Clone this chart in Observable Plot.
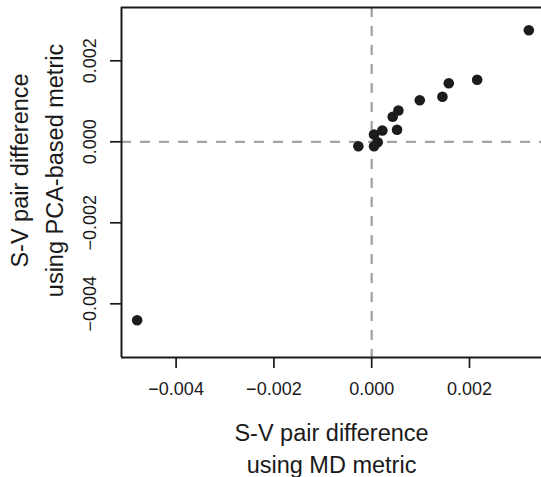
<!DOCTYPE html>
<html>
<head>
<meta charset="utf-8">
<script src="https://cdn.jsdelivr.net/npm/d3@7"></script>
<script src="https://cdn.jsdelivr.net/npm/@observablehq/plot@0.6"></script>
<style>
  html, body { margin: 0; padding: 0; background: #fff; overflow: hidden; }
</style>
</head>
<body>
<div id="chart"></div>
<script>
// S-V pair differences: MD metric (x) vs PCA-based metric (y)
const mdDiff  = [0.003214, -0.004797, 0.002157, 0.001576, 0.001447, 0.000983, 0.000546, 0.000430, 0.000519, 0.000218, 0.000048, 0.000123, 0.000048, -0.000273];
const pcaDiff = [0.002756, -0.004405, 0.001531, 0.001447, 0.001111, 0.001027, 0.000773, 0.000617, 0.000296, 0.000279, 0.000180, -0.000010, -0.000109, -0.000109];
const xTicks = [-0.004, -0.002, 0.000, 0.002];
const yTicks = [-0.004, -0.002, 0.000, 0.002];
const xDomain = [-0.005117, 0.003473];
const yDomain = [-0.005326, 0.003316];
const xTitle = ["S-V pair difference", "using MD metric"];
const yTitle = ["S-V pair difference", "using PCA-based metric"];

const points = mdDiff.map((x, i) => ({x, y: pcaDiff[i]}));
const fmt = d3.format(".3f");
const font = "'Liberation Sans', Arial, Helvetica, sans-serif";
const tickFont = 18;
const titleFont = 23.5;

const chart = Plot.plot({
  width: 541,
  height: 477,
  marginLeft: 121,
  marginRight: 0,
  marginTop: 7,
  marginBottom: 120,
  style: {fontFamily: font, fontSize: tickFont + "px", color: "#1a1a1a", background: "#fff", overflow: "hidden"},
  x: {domain: xDomain, axis: null},
  y: {domain: yDomain, axis: null},
  marks: [
    // reference lines
    Plot.ruleX([0], {stroke: "#a3a3a3", strokeWidth: 2.3, strokeDasharray: "10,9"}),
    Plot.ruleY([0], {stroke: "#a3a3a3", strokeWidth: 2.3, strokeDasharray: "10,9"}),
    // frame (right edge lies outside the visible area)
    Plot.ruleX([xDomain[0]], {stroke: "#1a1a1a", strokeWidth: 2}),
    Plot.ruleY([yDomain[0], yDomain[1]], {stroke: "#1a1a1a", strokeWidth: 2}),
    // axes
    Plot.axisX({ticks: xTicks, tickSize: 11, tickPadding: 14, tickFormat: fmt, fontSize: tickFont, strokeWidth: 1.7, label: null}),
    Plot.axisY({ticks: yTicks, tickSize: 11, tickPadding: 15, tickRotate: -90, tickFormat: fmt, fontSize: tickFont, strokeWidth: 1.7, label: null}),
    // points
    Plot.dot(points, {x: "x", y: "y", r: 5.3, fill: "#1c1c1c", stroke: null}),
    // axis titles
    Plot.text([xTitle[0]], {frameAnchor: "bottom", dy: 83, lineAnchor: "bottom", textAnchor: "middle", fontSize: titleFont, fill: "#1a1a1a"}),
    Plot.text([xTitle[1]], {frameAnchor: "bottom", dy: 115, lineAnchor: "bottom", textAnchor: "middle", fontSize: titleFont, fill: "#1a1a1a"}),
    Plot.text([yTitle[0]], {frameAnchor: "left", dx: -94, dy: -12, rotate: -90, lineAnchor: "bottom", textAnchor: "middle", fontSize: titleFont, fill: "#1a1a1a"}),
    Plot.text([yTitle[1]], {frameAnchor: "left", dx: -59, dy: -12, rotate: -90, lineAnchor: "bottom", textAnchor: "middle", fontSize: titleFont, fill: "#1a1a1a"})
  ]
});
// make sure the tick labels carry the intended size
d3.select(chart).selectAll('g[aria-label$="tick label"]').each(function () {
  this.setAttribute("font-size", tickFont);
  this.style.fontSize = tickFont + "px";
  d3.select(this).selectAll("text").style("font-size", tickFont + "px");
});
document.getElementById("chart").appendChild(chart);
</script>
</body>
</html>
